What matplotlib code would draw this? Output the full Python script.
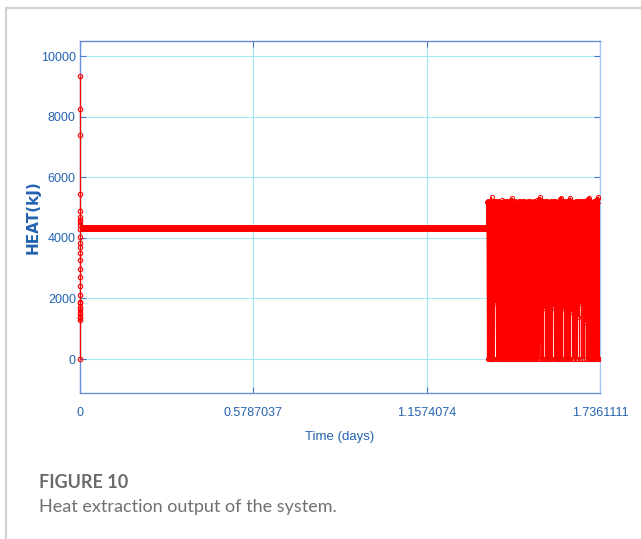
import numpy as np
import matplotlib
matplotlib.use("Agg")
import matplotlib.pyplot as plt
from matplotlib.lines import Line2D

plt.rcParams["path.simplify"] = False

# ----------------- data -----------------
# burst of readings logged at t = 0 (kJ)
initial_kj = [0, 1287, 1340, 1397, 1480, 1562, 1650, 1727, 1837, 1900, 2112,
              2409, 2695, 2981, 3267, 3509, 3686, 3818, 4037, 4300, 4420,
              4520, 4600, 4680, 4895, 5456, 7390, 8250, 9340]

# steady extraction period
steady_days = [0.0, 1.3588]
steady_kj = [4330, 4330]

# cycling period: one peak and one trough per cycle
osc_start, osc_end = 1.3588, 1.7361111
osc_peaks = [
    5200, 5230, 5180, 5220, 5340, 5210, 5190, 5230, 5170, 5200,
    5220, 5180, 5200, 5240, 5190, 5210, 5170, 5200, 5230, 5190,
    5210, 5250, 5310, 5200, 5180, 5220, 5190, 5200, 5230, 5170,
    5200, 5220, 5190, 5210, 5180, 5200, 5230, 5190, 5210, 5200,
    5180, 5220, 5200, 5190, 5240, 5210, 5280, 5340, 5220, 5190,
    5200, 5230, 5180, 5210, 5200, 5190, 5220, 5200, 5180, 5210,
    5230, 5190, 5200, 5220, 5270, 5330, 5210, 5190, 5200, 5220,
    5180, 5210, 5260, 5320, 5230, 5190, 5200, 5180, 5210, 5200,
    5190, 5220, 5200, 5180, 5210, 5230, 5190, 5200, 5250, 5290,
    5330, 5210, 5190, 5200, 5220, 5180, 5240, 5300, 5350, 5220,
]
osc_troughs = [
    0, 0, 0, 0, 0, 0, 0, 1860, 0, 0,
    0, 0, 0, 0, 0, 0, 0, 0, 0, 0,
    0, 0, 0, 0, 0, 0, 0, 0, 0, 0,
    0, 0, 0, 0, 0, 0, 0, 0, 0, 0,
    0, 0, 0, 0, 0, 0, 0, 550, 0, 0,
    1680, 0, 0, 0, 0, 0, 0, 0, 1730, 0,
    0, 0, 0, 0, 0, 0, 0, 1680, 0, 0,
    0, 0, 0, 0, 1560, 0, 0, 1230, 0, 0,
    1400, 0, 1840, 0, 1880, 0, 1230, 0, 0, 0,
    0, 0, 0, 0, 0, 0, 0, 0, 0, 0,
]

x_ticks = [0, 0.5787037, 1.1574074, 1.7361111]
x_labels = ["0", "0.5787037", "1.1574074", "1.7361111"]
y_ticks = [0, 2000, 4000, 6000, 8000, 10000]

# ----------------- style -----------------
tick_font = ["Liberation Sans", "DejaVu Sans"]
blue_txt = "#2363b0"
red = "#ff0000"

fig = plt.figure(figsize=(6.41, 5.39), dpi=100)
W, H = 641, 539

ax = fig.add_axes([80 / W, (H - 393) / H, 520 / W, 352 / H])

ax.set_xlim(0, 1.7361111)
ax.set_ylim(-1120, 10500)
ax.set_xticks(x_ticks)
ax.set_xticklabels(x_labels)
ax.set_yticks(y_ticks)
ax.set_yticklabels([str(v) for v in y_ticks])

ax.set_axisbelow(True)
ax.grid(True, color="#a4e8fa", linewidth=0.8)
ax.tick_params(direction="in", length=4, width=0.8, color="#4a78c8",
               top=True, right=True, labelcolor=blue_txt)
ax.tick_params(axis="x", pad=10)
ax.tick_params(axis="y", pad=3)
for lab in ax.get_xticklabels() + ax.get_yticklabels():
    lab.set_family(tick_font)
    lab.set_fontsize(9)

for side, col in [("left", "#6690d8"), ("bottom", "#6a90d8"),
                  ("top", "#6a8ad8"), ("right", "#a8c8f4")]:
    ax.spines[side].set_color(col)
    ax.spines[side].set_linewidth(1.0)

# ----------------- series -----------------
ax.plot(steady_days, steady_kj, color=red, linewidth=5.0,
        solid_capstyle="butt", zorder=3)

ax.plot(np.zeros(len(initial_kj)), initial_kj, color=red, linewidth=0.9,
        marker="o", markersize=3.2, markerfacecolor="none",
        markeredgewidth=0.8, clip_on=False, zorder=4)

osc_kj = np.ravel(np.column_stack([osc_peaks, osc_troughs]))
osc_days = np.linspace(osc_start, osc_end, len(osc_kj))
ax.plot(np.r_[steady_days[-1], osc_days], np.r_[steady_kj[-1], osc_kj],
        color=red, linewidth=0.9, marker="o", markersize=3.0,
        markerfacecolor="none", markeredgewidth=0.7, zorder=3)

ax.set_xlabel("Time (days)", family=tick_font, fontsize=9.5,
              color=blue_txt, labelpad=9)
ax.set_ylabel("HEAT(kJ)", family="DejaVu Sans", fontweight="bold",
              fontsize=11, color=blue_txt, labelpad=0)

# ----------------- caption + page frame -----------------
fig.text(39 / W, 1 - 488 / H, "FIGURE 10", family=["Lato", "DejaVu Sans"],
         fontweight="bold", fontsize=13, color="#6b6b6b", va="baseline")
fig.text(39 / W, 1 - 512 / H, "Heat extraction output of the system.",
         family=["Lato", "DejaVu Sans"], fontsize=13, color="#707070",
         va="baseline")

fig.add_artist(Line2D([6 / W, 1], [1 - 8 / H, 1 - 8 / H],
                      transform=fig.transFigure, color="#d0d0d0", linewidth=1.5))
fig.add_artist(Line2D([6 / W, 6 / W], [0, 1 - 8 / H],
                      transform=fig.transFigure, color="#d0d0d0", linewidth=1.5))

fig.savefig("out.png", dpi=100)
